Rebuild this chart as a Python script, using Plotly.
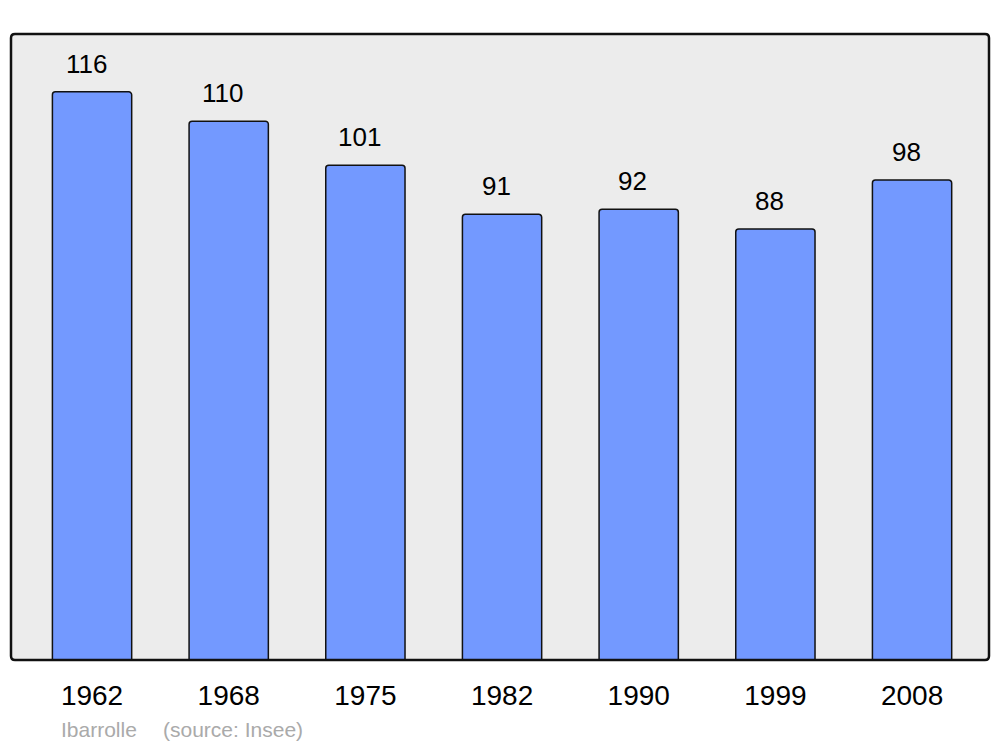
import plotly.graph_objects as go

years = ["1962", "1968", "1975", "1982", "1990", "1999", "2008"]
population = [116, 110, 101, 91, 92, 88, 98]
commune = "Ibarrolle"
source_text = "(source: Insee)"

fig = go.Figure()
fig.add_trace(go.Bar(
    x=years, y=population, width=0.58,
    marker=dict(color="#7399ff", line=dict(color="#111111", width=1.5), cornerradius=3),
    hoverinfo="x+y",
))

for i, v in enumerate(population):
    fig.add_annotation(x=i, y=v, text=str(v), showarrow=False, yanchor="middle", yshift=28, xshift=-6,
                       font=dict(size=26, color="#000000", family="Liberation Sans, Arial, sans-serif"))

fig.add_annotation(xref="paper", yref="paper", x=(59 - 11) / 978, y=(660 - 729) / 626,
                   xanchor="left", yanchor="middle", text=commune, showarrow=False,
                   font=dict(size=21, color="#aaaaaa", family="Liberation Sans, Arial, sans-serif"))
fig.add_annotation(xref="paper", yref="paper", x=(161 - 11) / 978, y=(660 - 729) / 626,
                   xanchor="left", yanchor="middle", text=source_text, showarrow=False,
                   font=dict(size=21, color="#aaaaaa", family="Liberation Sans, Arial, sans-serif"))

# rounded frame
rx, ry = 4 / 978, 4 / 626
path = (f"M {rx},0 L {1-rx},0 Q 1,0 1,{ry} L 1,{1-ry} Q 1,1 {1-rx},1 "
        f"L {rx},1 Q 0,1 0,{1-ry} L 0,{ry} Q 0,0 {rx},0 Z")
fig.add_shape(type="path", xref="paper", yref="paper", path=path,
              fillcolor="#ececec", line=dict(width=0), layer="below")
fig.add_shape(type="path", xref="paper", yref="paper", path=path,
              fillcolor="rgba(0,0,0,0)", line=dict(color="#111111", width=2.5), layer="above")

fig.update_layout(
    width=1000, height=747,
    margin=dict(l=3, r=19, t=26, b=95),
    paper_bgcolor="white", plot_bgcolor="white",
    showlegend=False,
    font=dict(family="Liberation Sans, Arial, sans-serif"),
    xaxis=dict(type="category", range=[-0.593, 6.563], showgrid=False, zeroline=False,
               showline=False, ticks="outside", ticklen=10, tickcolor="rgba(0,0,0,0)",
               tickfont=dict(size=28, color="#000000"), fixedrange=True),
    yaxis=dict(range=[0, 127.8], showgrid=False, zeroline=False, showline=False,
               showticklabels=False, ticks="", fixedrange=True),
)

fig.write_html("out.html")
